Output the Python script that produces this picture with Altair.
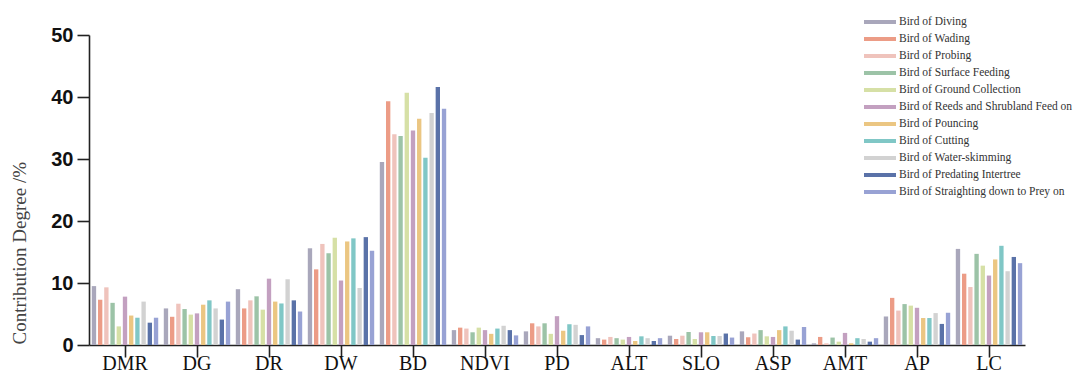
import altair as alt
import pandas as pd

factors = ["DMR", "DG", "DR", "DW", "BD", "NDVI", "PD", "ALT", "SLO", "ASP", "AMT", "AP", "LC"]
birds = [
    "Bird of Diving",
    "Bird of Wading",
    "Bird of Probing",
    "Bird of Surface Feeding",
    "Bird of Ground Collection",
    "Bird of Reeds and Shrubland Feed on",
    "Bird of Pouncing",
    "Bird of Cutting",
    "Bird of Water-skimming",
    "Bird of Predating Intertree",
    "Bird of Straighting down to Prey on",
]
colors = ["#a9a7bb", "#ec9c86", "#efc3bc", "#9cc3a7", "#d6e0a6", "#c3a0c0",
          "#ebc682", "#80c7c6", "#d2d2d2", "#5a72a8", "#98a2d4"]

diving = [9.5, 5.9, 9.0, 15.6, 29.5, 2.4, 2.2, 1.1, 1.5, 2.2, 0.27, 4.6, 15.5]
wading = [7.3, 4.55, 5.9, 12.2, 39.3, 2.8, 3.5, 0.87, 0.97, 1.25, 1.3, 7.6, 11.5]
probing = [9.3, 6.66, 7.2, 16.3, 34.0, 2.65, 3.0, 1.3, 1.5, 1.85, 0.27, 5.55, 9.35]
surface = [6.8, 5.8, 7.85, 14.8, 33.7, 2.05, 3.5, 1.1, 2.1, 2.4, 1.2, 6.6, 14.7]
ground = [3.0, 4.9, 5.7, 17.3, 40.7, 2.8, 1.8, 0.87, 0.97, 1.4, 0.54, 6.35, 12.8]
reeds = [7.8, 5.1, 10.7, 10.4, 34.6, 2.4, 4.65, 1.3, 2.05, 1.3, 1.95, 6.0, 11.2]
pouncing = [4.75, 6.5, 7.0, 16.7, 36.5, 1.8, 2.3, 0.65, 2.05, 2.4, 0.27, 4.35, 13.8]
cutting = [4.4, 7.2, 6.7, 17.2, 30.2, 2.65, 3.35, 1.4, 1.45, 3.0, 1.1, 4.35, 16.0]
water = [7.0, 5.9, 10.6, 9.2, 37.4, 3.1, 3.25, 1.1, 1.45, 2.3, 0.97, 5.15, 11.9]
predating = [3.6, 4.1, 7.2, 17.4, 41.6, 2.4, 1.6, 0.65, 1.85, 0.87, 0.54, 3.4, 14.2]
straighting = [4.4, 7.0, 5.4, 15.2, 38.1, 1.55, 3.0, 1.1, 1.2, 2.9, 1.1, 5.2, 13.2]

series = [diving, wading, probing, surface, ground, reeds, pouncing,
          cutting, water, predating, straighting]

rows = []
for bird, vals in zip(birds, series):
    for f, v in zip(factors, vals):
        rows.append({"Factor": f, "Bird": bird, "Value": v})
df = pd.DataFrame(rows)

chart = alt.Chart(df).mark_bar().encode(
    x=alt.X("Factor:N", sort=factors,
            scale=alt.Scale(paddingInner=0, paddingOuter=0),
            axis=alt.Axis(title=None, labelAngle=0, labelFont="Liberation Serif",
                          labelFontSize=20, labelColor="#111", tickSize=12,
                          labelBaseline="alphabetic", labelPadding=12,
                          domainColor="#222", tickColor="#222",
                          domainWidth=1.6, tickWidth=1.6)),
    xOffset=alt.XOffset("Bird:N", sort=birds,
                        scale=alt.Scale(paddingInner=0.3, paddingOuter=0.45)),
    y=alt.Y("Value:Q", scale=alt.Scale(domain=[0, 50]),
            axis=alt.Axis(values=[0, 10, 20, 30, 40, 50], grid=False,
                          labelFont="Liberation Sans", labelFontWeight="bold",
                          labelFontSize=20, labelColor="#111", tickSize=12,
                          labelPadding=4, domainColor="#222", tickColor="#222",
                          domainWidth=1.6, tickWidth=1.6,
                          title="Contribution Degree /%", titleFont="Liberation Serif",
                          titleFontSize=19, titleFontWeight="normal", titleColor="#444",
                          titleAngle=270, titleX=-70, titleY=309, titleAlign="left",
                          titleBaseline="middle")),
    color=alt.Color("Bird:N", sort=birds,
                    scale=alt.Scale(domain=birds, range=colors),
                    legend=alt.Legend(title=None, orient="none", legendX=783, legendY=-21,
                                      symbolType="M-2,-0.25L2,-0.25L2,0.25L-2,0.25Z",
                                      symbolSize=256, symbolStrokeWidth=0,
                                      labelFont="Liberation Serif", labelFontSize=11.5,
                                      labelColor="#333", rowPadding=3, padding=0,
                                      labelOffset=11, labelLimit=300)),
).properties(
    width=936, height=310,
    padding={"left": 81, "top": 27, "right": 50, "bottom": 30},
    autosize=alt.AutoSizeParams(type="none"),
).configure_view(stroke=None)

chart.save("out.html", embed_options={"renderer": "svg", "actions": False})
